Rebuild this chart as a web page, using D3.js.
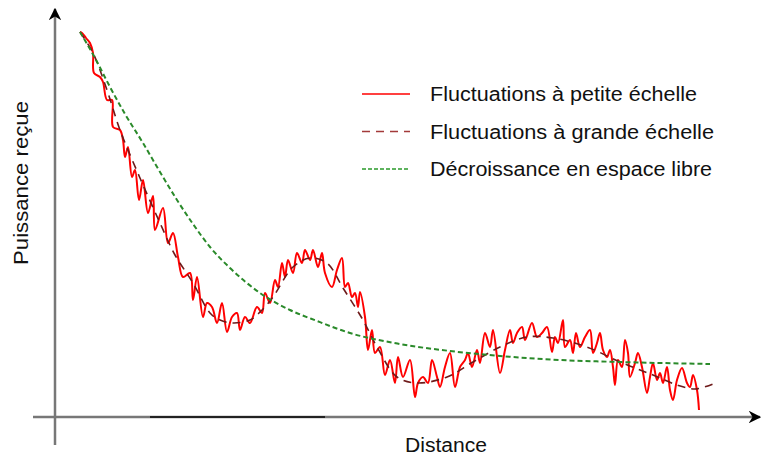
<!DOCTYPE html>
<html>
<head>
<meta charset="utf-8">
<script src="https://cdn.jsdelivr.net/npm/d3@7"></script>
<style>
  body { margin: 0; background: #fff; }
  text { font-family: "Liberation Sans", Arial, sans-serif; fill: #111; }
</style>
</head>
<body>
<script>
// distance (arbitrary units) for each sample, and received power (arbitrary units)
var smallDist = [25,27,31,35,38,39,45,48,52,57,58,65,68,70,73,77,80,84,88,93,98,100,108,113,118,123,128,135,138,142,
  148,152,157,162,167,172,177,182,185,190,195,202,207,210,215,220,223,227,230,233,238,242,247,250,255,258,263,267,270,277,
  282,287,290,293,297,300,303,305,310,313,317,320,325,330,335,340,343,348,355,360,363,368,373,377,382,385,390,395,400,405,
  410,413,417,422,425,430,435,438,445,450,455,458,462,467,470,477,482,487,492,497,500,503,508,510,515,518,521,525,530,535,
  538,542,545,548,552,555,558,560,563,567,570,573,575,580,583,587,592,595,598,602,605,608,612,615,618,622,627,632,635,638,642,644];
var smallPower = [385,384,379,374,364,344,340,335,317,317,290,287,277,260,270,240,247,217,237,204,221,187,209,174,184,160,140,144,117,140,
  100,114,110,94,114,85,100,104,87,100,94,110,104,124,114,137,130,154,140,157,144,164,154,167,157,167,150,164,144,130,
  147,159,130,134,120,124,110,125,100,67,87,64,70,42,57,34,60,40,57,20,34,40,34,57,40,30,50,64,30,50,
  57,64,50,67,54,84,70,87,44,67,87,74,84,90,77,94,80,84,90,65,80,74,97,70,77,64,84,70,80,87,
  64,74,84,67,60,67,50,32,57,50,77,64,40,54,64,50,24,40,54,37,44,34,50,27,17,37,49,34,30,42,27,7];

var largeDist = [25,38,52,65,85,105,120,138,155,165,178,195,207,218,238,255,272,288,308,322,342,362,392,418,445,472,498,532,565,598,622,640,658];
var largePower = [385,364,327,287,239,194,162,134,104,97,94,97,107,120,150,159,154,129,97,70,40,34,40,55,70,80,79,70,55,42,32,28,33];

var freeDist = [25,40,55,70,88,105,122,138,155,175,205,235,262,295,345,395,445,505,565,655];
var freePower = [385,359,330,303,274,245,217,193,170,149,124,107,96,84,73,66,61,57,55,53];

var legendLabels = ["Fluctuations à petite échelle", "Fluctuations à grande échelle", "Décroissance en espace libre"];
var xLabel = "Distance";
var yLabel = "Puissance reçue";

var width = 766, height = 457;

var xScale = d3.scaleLinear().domain([0, 700]).range([55, 755]);
var yScale = d3.scaleLinear().domain([0, 400]).range([417, 17]);

var svg = d3.select("body").append("svg")
    .attr("width", width)
    .attr("height", height);

var defs = svg.append("defs");
defs.append("marker")
    .attr("id", "arrow")
    .attr("viewBox", "0 0 10 10")
    .attr("refX", 9).attr("refY", 5)
    .attr("markerWidth", 5).attr("markerHeight", 5)
    .attr("markerUnits", "strokeWidth")
    .attr("orient", "auto")
  .append("path")
    .attr("d", "M0,0 L10,5 L0,10 L3,5 Z")
    .attr("fill", "#000");

// axes (no ticks, just arrows)
svg.append("line")
    .attr("x1", xScale(-22)).attr("x2", xScale(705))
    .attr("y1", yScale(0)).attr("y2", yScale(0))
    .attr("stroke", "#777").attr("stroke-width", 2.5)
    .attr("marker-end", "url(#arrow)");
svg.append("line")
    .attr("x1", xScale(95)).attr("x2", xScale(270))
    .attr("y1", yScale(0)).attr("y2", yScale(0))
    .attr("stroke", "#222").attr("stroke-width", 2);
svg.append("line")
    .attr("x1", xScale(0)).attr("x2", xScale(0))
    .attr("y1", yScale(-28)).attr("y2", yScale(408))
    .attr("stroke", "#777").attr("stroke-width", 2.5)
    .attr("marker-end", "url(#arrow)");

svg.append("text")
    .attr("x", 405).attr("y", 452)
    .attr("font-size", 20)
    .attr("textLength", 82)
    .attr("lengthAdjust", "spacingAndGlyphs")
    .text(xLabel);
svg.append("text")
    .attr("transform", "translate(28,265) rotate(-90)")
    .attr("font-size", 20)
    .attr("textLength", 164)
    .attr("lengthAdjust", "spacingAndGlyphs")
    .text(yLabel);

var line = d3.line()
    .x(d => xScale(d[0]))
    .y(d => yScale(d[1]));

var smallData = d3.zip(smallDist, smallPower);
var largeData = d3.zip(largeDist, largePower);
var freeData = d3.zip(freeDist, freePower);

svg.append("path")
    .datum(smallData)
    .attr("fill", "none")
    .attr("stroke", "#ff0000")
    .attr("stroke-width", 2)
    .attr("stroke-linejoin", "round")
    .attr("d", line.curve(d3.curveCatmullRom.alpha(0.5)));

svg.append("path")
    .datum(largeData)
    .attr("fill", "none")
    .attr("stroke", "#6e1a1a")
    .attr("stroke-width", 1.6)
    .attr("stroke-dasharray", "8,6")
    .attr("d", line.curve(d3.curveCatmullRom.alpha(0.5)));

svg.append("path")
    .datum(freeData)
    .attr("fill", "none")
    .attr("stroke", "#2a8a2a")
    .attr("stroke-width", 2)
    .attr("stroke-dasharray", "5,3")
    .attr("d", line.curve(d3.curveMonotoneX));

// legend
var legendStyles = [
  {color: "#ff0000", dash: null, w: 1.5, len: 267},
  {color: "#a33a3a", dash: "8,6", w: 1.5, len: 284},
  {color: "#2a9a2a", dash: "4,2", w: 1.5, len: 282}
];
var legend = svg.append("g");
legendLabels.forEach(function(lbl, i) {
  var y = 94 + i * 37.5;
  legend.append("line")
      .attr("x1", 362).attr("x2", 410)
      .attr("y1", y).attr("y2", y)
      .attr("stroke", legendStyles[i].color)
      .attr("stroke-width", legendStyles[i].w)
      .attr("stroke-dasharray", legendStyles[i].dash);
  legend.append("text")
      .attr("x", 430).attr("y", y + 7)
      .attr("font-size", 19.5)
      .attr("textLength", legendStyles[i].len)
      .attr("lengthAdjust", "spacingAndGlyphs")
      .text(lbl);
});
</script>
</body>
</html>
